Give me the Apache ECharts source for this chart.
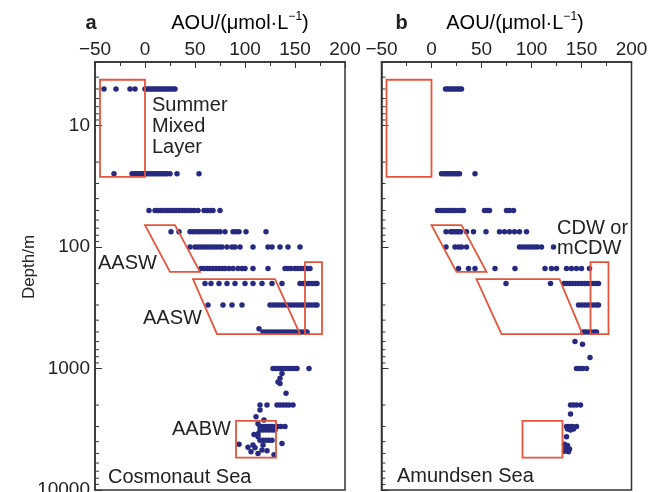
<!DOCTYPE html>
<html><head><meta charset="utf-8">
<script src="https://cdn.jsdelivr.net/npm/echarts@6/dist/echarts.min.js"></script>
<style>html,body{margin:0;padding:0;background:#fff}#c{width:653px;height:492px}</style>
</head><body><div id="c"></div><script>
// ---- data: AOU (µmol/L) values observed at each standard depth (m) ----
const cosmoDepths = [5, 25, 50, 75, 100, 150, 200, 300, 500, 1000, 2000, 3000, 3200, 3900];
const cosmoAOU = [
  [-41, -29, -15, -10, 0, 2, 4, 6, 8, 10, 12, 14, 16, 18, 20, 22, 24, 26, 28, 30],
  [-31, -13, -10, -8, -6, -4, -2, 0, 2, 4, 6, 8, 10, 12, 14, 16, 18, 20, 22, 25, 32, 54],
  [4, 10, 13, 16, 19, 22, 25, 28, 31, 34, 37, 40, 43, 46, 49, 53, 59, 62, 65, 68, 75],
  [26, 34, 45, 48, 51, 54, 57, 60, 63, 66, 69, 72, 75, 80, 88, 91, 94, 101, 121],
  [45, 50, 53, 56, 59, 62, 65, 68, 71, 74, 77, 82, 87, 90, 95, 108, 123, 127, 135, 143, 155],
  [56, 59, 62, 65, 68, 71, 74, 77, 80, 84, 88, 93, 97, 100, 108, 123, 140, 143, 146, 150, 153, 156, 159, 162, 165],
  [60, 66, 74, 82, 90, 100, 108, 117, 127, 137, 155, 158, 161, 164, 167, 170, 172],
  [63, 78, 87, 97, 125, 128, 131, 134, 137, 140, 143, 146, 149, 152, 155, 158, 161, 164, 167, 170, 172],
  [118, 121, 124, 127, 130, 133, 136, 139, 142, 145, 148, 151, 154, 157, 160, 162],
  [128, 131, 134, 137, 140, 143, 146, 149, 152, 164],
  [115, 122, 132, 135, 138, 141, 144, 148],
  [115, 118, 121, 124, 127, 130, 133, 136, 140],
  [115, 118, 121, 124, 127, 130],
  [115, 118, 121, 124, 127]
];
const cosmoExtra = [[114, 470], [137, 1100], [135, 1200], [133, 1290], [135, 1330], [141, 1600],
  [115, 2200], [111, 2500], [119, 2650], [113, 2850], [113, 3450], [113, 3650], [109, 3500],
  [94, 4200], [103, 4450], [108, 4270], [106, 4850], [110, 4500], [117, 4680], [113, 5000],
  [122, 4750], [129, 5130], [137, 4150], [118, 4270]];

const amunDepths = [5, 25, 50, 75, 100, 150, 200, 300, 500, 1000, 2000, 3000];
const amunAOU = [
  [14, 16, 18, 20, 22, 24, 26, 28, 30],
  [10, 12, 14, 16, 18, 20, 22, 24, 26, 28, 43.5],
  [6, 9, 12, 15, 18, 21, 24, 27, 30, 32, 53, 56, 58, 75, 78, 82],
  [14.5, 19, 21, 23, 25, 27, 29, 35, 42, 54.5, 68, 73, 78, 83, 88, 95],
  [14.5, 23.5, 27, 30, 35, 88, 91, 94, 97, 100, 103, 106, 110, 122],
  [27, 37, 43.5, 63.5, 83.5, 113.5, 120, 125, 135, 140, 145, 150, 158],
  [74.5, 119, 132.5, 135, 138, 141, 144, 147, 150, 153, 156, 159, 162, 165, 167],
  [147, 150, 153, 156, 159, 162, 165, 167],
  [151.5, 154, 157, 160, 163, 165],
  [145, 148, 151, 155],
  [139, 142, 145, 149],
  [135, 138, 141, 145]
];
const amunExtra = [[143.5, 600], [151, 630], [158.5, 810], [139, 2370], [136, 3150], [139, 3200],
  [142, 3150], [135, 3640], [133, 4200], [136, 4300], [135, 4400], [134, 4500], [138, 4600],
  [133, 4800], [137, 4850]];

// water-mass outlines [AOU, depth]
const summerBox = [[-45, 4.2], [0, 4.2], [0, 26.5], [-45, 26.5]];
const aaswUpper = [[0, 66], [30, 66], [55, 160], [25, 160]];
const aaswLowerA = [[48, 184], [130, 184], [155, 521], [72, 521]];
const aaswLowerB = [[45, 184], [128, 184], [151, 521], [70, 521]];
const cdwBoxA = [[160, 133], [177, 133], [177, 521], [160, 521]];
const cdwBoxB = [[159, 133], [177, 133], [177, 521], [159, 521]];
const aabwBox = [[91, 2700], [131, 2700], [131, 5420], [91, 5420]];

const xTicks = { min: -50, max: 200, interval: 50 };
const depthRange = { min: 3, max: 10000 };
const minorDepths = [4, 5, 6, 7, 8, 9, 20, 30, 40, 50, 60, 70, 80, 90,
  200, 300, 400, 500, 600, 700, 800, 900, 2000, 3000, 4000, 5000, 6000, 7000, 8000, 9000];

// ---- build ----
const FONT = 'Liberation Sans';
const INK = '#222';
const RED = '#e4553c';
const DOT = '#262a80';

function toPoints(depths, rows, extra) {
  const pts = [];
  depths.forEach((d, i) => rows[i].forEach(v => pts.push([v, d])));
  extra.forEach(p => pts.push(p));
  return pts;
}

function xAxis(gi) {
  return {
    gridIndex: gi, type: 'value', min: xTicks.min, max: xTicks.max, interval: xTicks.interval,
    position: 'top',
    axisLine: { show: true, onZero: false, lineStyle: { color: '#333', width: 1.5 } },
    axisTick: { show: true, inside: true, length: 6, lineStyle: { color: '#333', width: 1 } },
    minorTick: { show: true, splitNumber: 2, length: 4, lineStyle: { color: '#333', width: 1 } },
    splitLine: { show: false }, minorSplitLine: { show: false },
    axisLabel: { fontSize: 19, fontFamily: FONT, color: INK, margin: 3,
      formatter: v => v < 0 ? '\u2212' + (-v) : String(v) }
  };
}
function yAxis(gi, labels) {
  return {
    gridIndex: gi, type: 'log', logBase: 10, min: depthRange.min, max: depthRange.max, inverse: true,
    position: 'left',
    axisLine: { show: true, onZero: false, lineStyle: { color: '#333', width: 1.5 } },
    axisTick: { show: true, inside: true, length: 7, lineStyle: { color: '#333', width: 1 } },
    minorTick: { show: false },
    splitLine: { show: false },
    axisLabel: { show: labels, fontSize: 19, fontFamily: FONT, color: INK, margin: 5,
      formatter: v => { const l = Math.log10(v); return Math.abs(l - Math.round(l)) < 1e-6 ? String(Math.round(Math.pow(10, Math.round(l)))) : ''; } }
  };
}
function poly(verts, gi) {
  return {
    type: 'custom', xAxisIndex: gi, yAxisIndex: gi, data: verts, z: 5, silent: true,
    renderItem: (params, api) => {
      if (params.dataIndex !== 0) return;
      const pts = verts.map(v => api.coord(v));
      return { type: 'polygon', shape: { points: pts },
        style: { fill: 'none', stroke: RED, lineWidth: 1.8 } };
    }
  };
}
function minor(gi) {
  return {
    type: 'custom', xAxisIndex: gi, yAxisIndex: gi, data: minorDepths.map(d => [0, d]), z: 6, silent: true,
    renderItem: (params, api) => {
      const y = api.coord([0, api.value(1)])[1];
      const x0 = params.coordSys.x;
      return { type: 'line', shape: { x1: x0, y1: y, x2: x0 + 4, y2: y },
        style: { stroke: '#333', lineWidth: 1 } };
    }
  };
}
function scatter(pts, gi) {
  return { type: 'scatter', xAxisIndex: gi, yAxisIndex: gi, data: pts, symbolSize: 5.5,
    itemStyle: { color: DOT, opacity: 1 }, z: 3, silent: true };
}
function txt(x, y, text, opt) {
  return { type: 'text', x: x, y: y, z: 100,
    style: Object.assign({ text: text, fontSize: 20, fontFamily: FONT, fill: INK,
      align: 'left', verticalAlign: 'middle' }, opt || {}) };
}
const titleText = '{n|AOU/(\u03bcmol\u00b7L}{s|\u22121}{n|)}';
const titleRich = { n: { fontSize: 20, fontFamily: FONT, lineHeight: 24, color: INK },
  s: { fontSize: 12, fontFamily: FONT, lineHeight: 14, verticalAlign: 'top', color: INK } };

const chart = echarts.init(document.getElementById('c'), null, { renderer: 'canvas' });
chart.setOption({
  animation: false,
  backgroundColor: '#fff',
  grid: [
    { left: 95, top: 62, width: 250, height: 428, show: true, borderColor: '#333', borderWidth: 1.5, outerBoundsMode: 'none', containLabel: false },
    { left: 381.5, top: 62, width: 250, height: 428, show: true, borderColor: '#333', borderWidth: 1.5, outerBoundsMode: 'none', containLabel: false }
  ],
  xAxis: [xAxis(0), xAxis(1)],
  yAxis: [yAxis(0, true), yAxis(1, false)],
  series: [
    scatter(toPoints(cosmoDepths, cosmoAOU, cosmoExtra), 0),
    scatter(toPoints(amunDepths, amunAOU, amunExtra), 1),
    poly(summerBox, 0), poly(aaswUpper, 0), poly(aaswLowerA, 0), poly(cdwBoxA, 0), poly(aabwBox, 0),
    poly(summerBox, 1), poly(aaswUpper, 1), poly(aaswLowerB, 1), poly(cdwBoxB, 1), poly(aabwBox, 1),
    minor(0), minor(1)
  ],
  graphic: [
    txt(91, 23, 'a', { fontWeight: 'bold', align: 'center' }),
    txt(401.5, 23, 'b', { fontWeight: 'bold', align: 'center' }),
    { type: 'text', x: 240, y: 23, z: 100, style: { text: titleText, rich: titleRich, align: 'center', verticalAlign: 'middle' } },
    { type: 'text', x: 515, y: 23, z: 100, style: { text: titleText, rich: titleRich, align: 'center', verticalAlign: 'middle' } },
    { type: 'text', x: 29, y: 267, rotation: Math.PI / 2, z: 100,
      style: { text: 'Depth/m', fontSize: 17, fontFamily: FONT, fill: INK, align: 'center', verticalAlign: 'middle' } },
    txt(152, 126, 'Summer\nMixed\nLayer', { lineHeight: 21 }),
    txt(98, 263, 'AASW'),
    txt(143, 318, 'AASW'),
    txt(172, 429, 'AABW'),
    txt(108, 477, 'Cosmonaut Sea'),
    txt(557, 238, 'CDW or\nmCDW', { lineHeight: 20 }),
    txt(397, 476, 'Amundsen Sea')
  ]
});
</script></body></html>
